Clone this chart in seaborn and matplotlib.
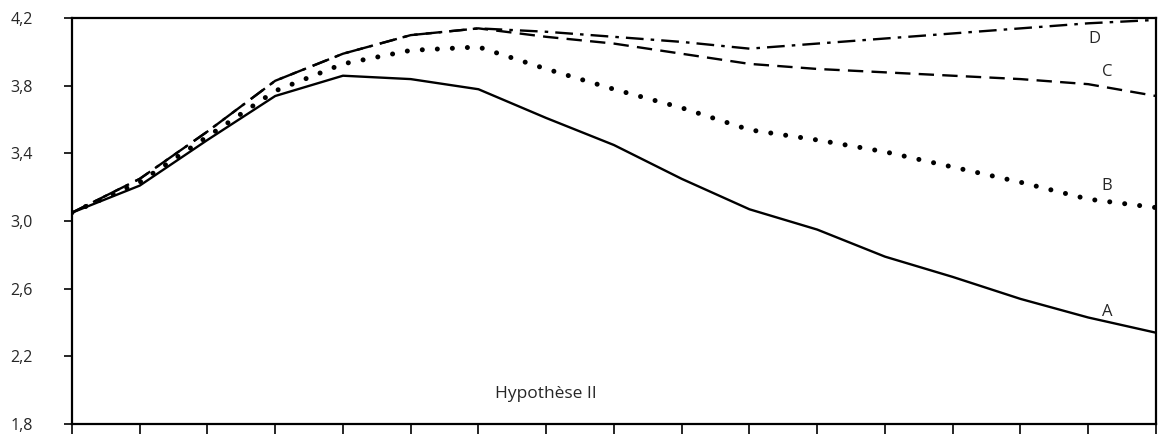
import numpy as np
import pandas as pd
import matplotlib
matplotlib.use("Agg")
import matplotlib.pyplot as plt
import seaborn as sns

# ------------------------------------------------------------
# Data
# ------------------------------------------------------------
periodes = list(range(17))

serie_a = [3.05, 3.21, 3.48, 3.74, 3.86, 3.84, 3.78, 3.61, 3.45, 3.25,
           3.07, 2.95, 2.79, 2.67, 2.54, 2.43, 2.34]
serie_b = [3.05, 3.23, 3.50, 3.77, 3.93, 4.01, 4.03, 3.90, 3.78, 3.67,
           3.54, 3.48, 3.41, 3.32, 3.23, 3.13, 3.08]
serie_c = [3.05, 3.25, 3.53, 3.83, 3.99, 4.10, 4.14, 4.09, 4.05, 3.99,
           3.93, 3.90, 3.88, 3.86, 3.84, 3.81, 3.74]
serie_d = [3.05, 3.25, 3.53, 3.83, 3.99, 4.10, 4.14, 4.12, 4.09, 4.06,
           4.02, 4.05, 4.08, 4.11, 4.14, 4.17, 4.19]

noms = ["A", "B", "C", "D"]
label_pos = [(15.2, 2.46), (15.2, 3.21), (15.2, 3.88), (15.0, 4.08)]

y_ticks = [1.8, 2.2, 2.6, 3.0, 3.4, 3.8, 4.2]
y_labels = ["1,8", "2,2", "2,6", "3,0", "3,4", "3,8", "4,2"]

titre = "Hypothèse II"

# ------------------------------------------------------------
# Plot
# ------------------------------------------------------------
sns.set_style("white")
plt.rcParams["font.family"] = ["Open Sans", "DejaVu Sans"]

fig = plt.figure(figsize=(11.66, 4.34), dpi=100)
ax = fig.add_axes([0.0617, 0.023, 0.9297, 0.935])

styles = [
    dict(linestyle="-", linewidth=1.7),
    dict(linestyle=(0, (0.01, 3.0)), linewidth=3.6, dash_capstyle="round"),
    dict(linestyle=(0, (6.5, 3.5)), linewidth=1.7),
    dict(linestyle=(0, (7.5, 3, 1.5, 3)), linewidth=1.7),
]

for vals, st in zip([serie_a, serie_b, serie_c, serie_d], styles):
    sns.lineplot(x=periodes, y=vals, ax=ax, color="black", **st)

for nom, (px, py) in zip(noms, label_pos):
    ax.text(px, py, nom, fontsize=12, ha="left", va="center")

ax.text(7.0, 1.98, titre, fontsize=12.5, ha="center", va="center")

ax.set_xlim(0, 16)
ax.set_ylim(1.8, 4.2)
ax.set_xticks(periodes)
ax.set_xticklabels([])
ax.set_yticks(y_ticks)
ax.set_yticklabels(y_labels, fontsize=11.5)

for sp in ax.spines.values():
    sp.set_visible(True)
    sp.set_color("black")
    sp.set_linewidth(1.6)

ax.tick_params(axis="x", direction="out", length=7.5, width=1.4, bottom=True)
ax.tick_params(axis="y", direction="out", length=6, width=1.4, left=True, pad=22)
ax.set_xlabel("")
ax.set_ylabel("")

fig.savefig("out.png", dpi=100)
